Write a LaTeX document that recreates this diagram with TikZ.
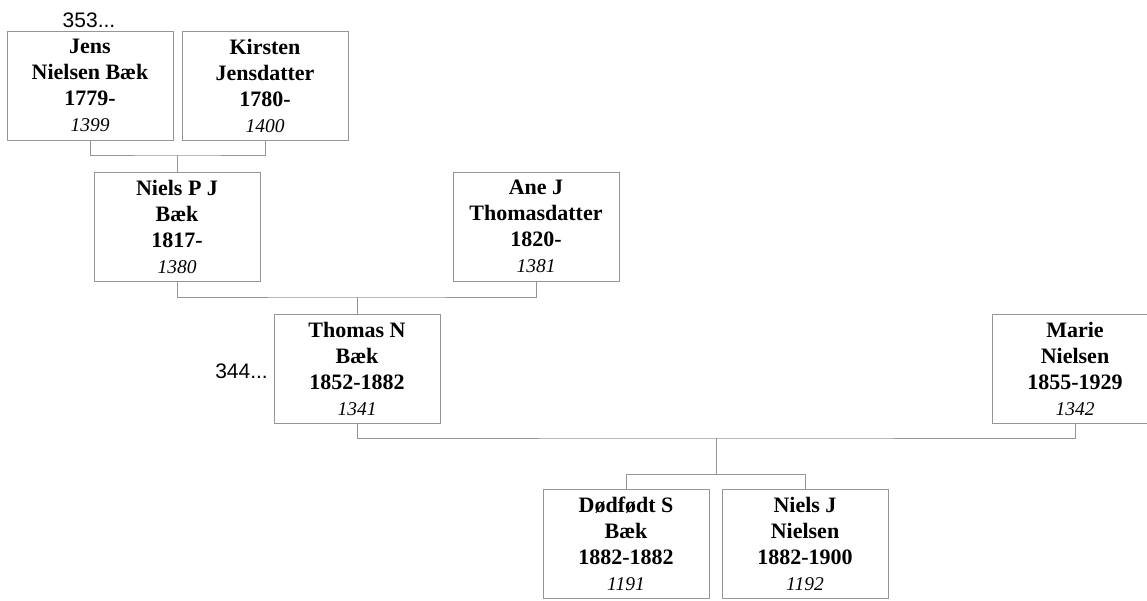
\documentclass[tikz,border=0pt]{standalone}
\usepackage{fontspec}
\setmainfont{Liberation Serif}
\setsansfont{Liberation Sans}
\definecolor{linegray}{RGB}{150,150,150}
\tikzset{
  person/.style={draw=linegray, line width=1pt, fill=white, rectangle,
    minimum width=166pt, minimum height=109pt, inner sep=0pt, align=center,
    font=\fontsize{22}{26}\selectfont\bfseries},
  link/.style={draw=linegray, line width=1pt},
  more/.style={font=\sffamily\fontsize{21}{24}\selectfont, inner sep=0pt}
}
\newcommand{\refno}[1]{{\fontsize{19.5}{26}\selectfont\mdseries\itshape #1}}
\begin{document}
\begin{tikzpicture}[x=1pt,y=-1pt]
\useasboundingbox (0,0) rectangle (1147,600);
\clip (0,0) rectangle (1147,600);
\node[person] (jens) at (90,85.5) {Jens\\Nielsen Bæk\\1779-\\\refno{1399}};
\node[person] (kirsten) at (265,85.5) {Kirsten\\Jensdatter\\1780-\\\refno{1400}};
\node[person] (nielsp) at (177,226.5) {Niels P J\\Bæk\\1817-\\\refno{1380}};
\node[person] (ane) at (536,226.5) {Ane J\\Thomasdatter\\1820-\\\refno{1381}};
\node[person] (thomas) at (357,368.5) {Thomas N\\Bæk\\1852-1882\\\refno{1341}};
\node[person] (marie) at (1075,368.5) {Marie\\Nielsen\\1855-1929\\\refno{1342}};
\node[person] (dodfodt) at (626,543.5) {Dødfødt S\\Bæk\\1882-1882\\\refno{1191}};
\node[person] (nielsj) at (805,543.5) {Niels J\\Nielsen\\1882-1900\\\refno{1192}};
\node[more, anchor=base] (more1) at (89,27) {353...};
\node[more, anchor=east] (more2) at (268,371) {344...};
\coordinate (j1) at (177,155);
\coordinate (j2) at (357,297);
\coordinate (j3) at (716,438);
\coordinate (j4) at (716,474);
\draw[link] (jens.south) |- (j1) -| (kirsten.south);
\draw[link] (j1) -- (nielsp.north);
\draw[link] (nielsp.south) |- (j2) -| (ane.south);
\draw[link] (j2) -- (thomas.north);
\draw[link] (thomas.south) |- (j3) -| (marie.south);
\draw[link] (j3) -- (j4);
\draw[link] (dodfodt.north) |- (j4) -| (nielsj.north);
\end{tikzpicture}
\end{document}
